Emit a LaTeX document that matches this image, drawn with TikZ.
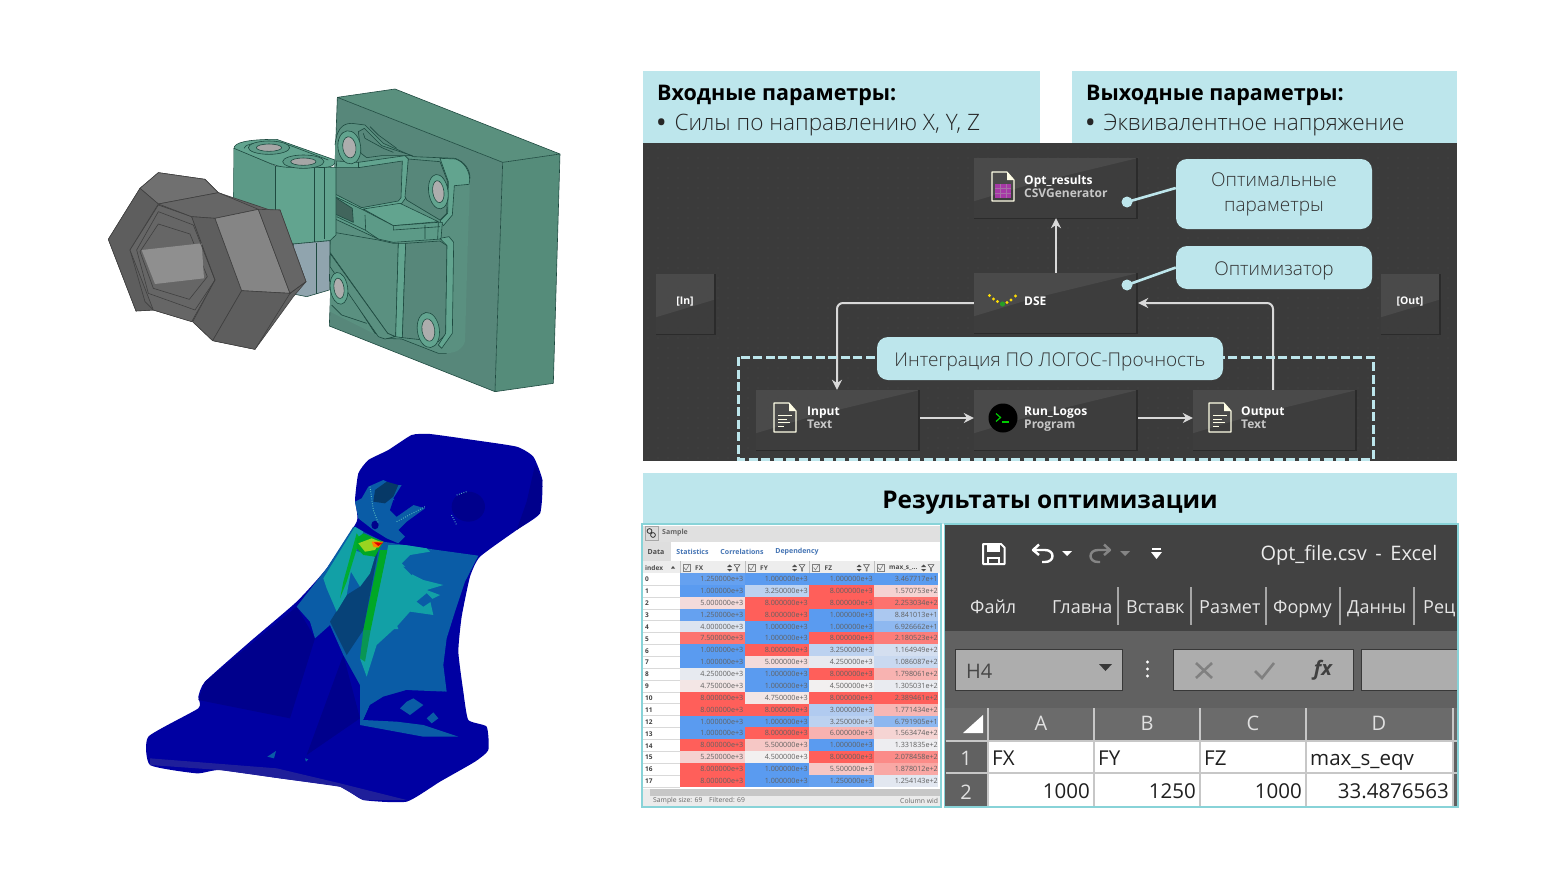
\documentclass[tikz,border=0pt]{standalone}
\usepackage{fontspec}
\setmainfont{Open Sans}
\newfontfamily\lightf{Open Sans Light}
\usetikzlibrary{arrows.meta,calc,shapes.geometric}
\definecolor{paleblue}{HTML}{BDE6EC}
\definecolor{panel}{HTML}{3B3B3B}
\definecolor{nodebase}{HTML}{3D3D3D}
\definecolor{nodelight}{HTML}{4A4A4A}
\definecolor{nodeshadow}{HTML}{2B2B2B}
\definecolor{cellblue}{HTML}{5A9BF0}
\definecolor{cellred}{HTML}{FF5F5A}
\definecolor{cellmid}{HTML}{F2F0F0}
\definecolor{gfront}{HTML}{57877A}
\definecolor{gtop}{HTML}{5A907E}
\definecolor{gside}{HTML}{558C7A}
\definecolor{gpanel}{HTML}{5A9080}
\definecolor{graised}{HTML}{5C9A87}
\definecolor{gbright}{HTML}{62A48F}
\definecolor{gline}{HTML}{1E4A40}
\definecolor{feaA}{HTML}{0000A2}
\definecolor{feaB}{HTML}{00008C}
\definecolor{feaC}{HTML}{0A5CA6}
\definecolor{feaD}{HTML}{12A0A6}
\tikzset{
  flowbox/.style={rectangle,inner sep=0pt,fill=nodebase,minimum height=60,
    path picture={
      \fill[nodelight] (path picture bounding box.north west) -- (path picture bounding box.north east)
        -- ($(path picture bounding box.north west)!.42!(path picture bounding box.south west)+(60,0)$)
        -- ($(path picture bounding box.north west)!.72!(path picture bounding box.south west)$) -- cycle;
      \fill[nodeshadow] ($(path picture bounding box.south west)+(0,3)$) rectangle (path picture bounding box.south east);
      \fill[nodeshadow] ($(path picture bounding box.north east)+(-2,0)$) rectangle (path picture bounding box.south east);
    }},
  wide/.style={flowbox,minimum width=164},
  tiny/.style={flowbox,minimum width=60},
  tname/.style={anchor=base west,inner sep=0pt,text=white,font=\bfseries\fontsize{12}{13}\selectfont},
  tkind/.style={anchor=base west,inner sep=0pt,text=black!22,font=\bfseries\fontsize{12}{13}\selectfont},
  flowline/.style={draw=black!15,line width=2pt,rounded corners=6pt,-{Stealth[length=10pt,width=10pt]}},
  tagbox/.style={rectangle,fill=paleblue,rounded corners=11pt,inner sep=0pt,align=center,
    text=black!80,font=\lightf\fontsize{19}{25}\selectfont,execute at begin node={\rule{0pt}{20pt}}},
  tagline/.style={draw=paleblue,line width=2.6pt},
  tagdot/.style={circle,fill=paleblue,inner sep=0pt,minimum size=11pt},
  headtext/.style={anchor=base west,inner sep=0pt,text=black,font=\bfseries\fontsize{21.5}{26}\selectfont},
  bullettext/.style={anchor=base west,inner sep=0pt,text=black!85,font=\lightf\fontsize{22.6}{27}\selectfont},
  tbl/.style={inner sep=0pt,text=black!62,font=\fontsize{7.2}{8}\selectfont},
  tabsmall/.style={inner sep=0pt,text=cellblue!75!black,font=\bfseries\fontsize{7}{8}\selectfont},
  xl/.style={inner sep=0pt,text=black!88,font=\fontsize{20.5}{24}\selectfont},
  xlhead/.style={inner sep=0pt,text=black!12,font=\fontsize{20}{24}\selectfont},
  xltab/.style={inner sep=0pt,anchor=base west,text=black!10,font=\fontsize{18}{22}\selectfont},
  cad/.style={draw=gline,line width=.6pt,line join=round},
  nut/.style={draw=black!75,line width=.6pt,line join=round},
}
\newcommand\docicon[2]{%
  \draw[draw=white!90!yellow,line width=1.1pt,line join=round] (#1,#2) -- ++(15,0) -- ++(7,8) -- ++(0,21) -- ++(-22,0) -- cycle;
  \fill[white!90!yellow] (#1+15,#2) -- ++(7,8) -- ++(-7,0) -- cycle;
}
\newcommand\doclines[2]{%
  \draw[white!90!yellow,line width=.9pt] (#1+4,#2+12) -- ++(14,0) (#1+4,#2+16) -- ++(9,0) (#1+4,#2+19.5) -- ++(12,0) (#1+4,#2+23) -- ++(6,0);
}
\newcommand\cellv[5]{%
  \pgfmathsetmacro\pp{(#3-#4)/(#5-#4)*200-100}%
  \ifdim\pp pt<0pt
    \pgfmathsetmacro\qq{100+\pp}\colorlet{cc}{cellmid!\qq!cellblue}%
  \else
    \colorlet{cc}{cellred!\pp!cellmid}%
  \fi
  \fill[cc] (#1,#2-5.95) rectangle ++(64.6,11.9);
}
\newcommand\xltabtext[3]{\begin{scope}\clip (#1-1,590) rectangle (#3,625);\node[xltab] (tab#1) at (#1,613.5) {#2};\end{scope}}
\begin{document}
\begin{tikzpicture}[x=1pt,y=-1pt]
\useasboundingbox (0,0) rectangle (1552,873);
\fill[white] (0,0) rectangle (1552,873);

%% ---------- CAD model
\begin{scope}[shift={(90,80)},x=.33333pt,y=-.33333pt]
  \fill[gfront] (742,52) -- (1238,247) -- (1215,935) -- (718,738) -- cycle;
  \fill[gtop] (742,52) -- (915,27) -- (1410,222) -- (1238,247) -- cycle;
  \fill[gside] (1238,247) -- (1410,222) -- (1390,910) -- (1215,935) -- cycle;
  \draw[cad] (742,52) -- (915,27) -- (1410,222) -- (1390,910) -- (1215,935) -- (718,738) -- cycle
     (742,52) -- (1238,247) -- (1410,222) (1238,247) -- (1215,935);
\end{scope}
\begin{scope}[shift={(325,115)},x=.33333pt,y=-.33333pt]
  \fill[gpanel] (30,90) .. controls (35,45) and (50,25) .. (80,25) -- (120,30) -- (175,85) -- (265,125) -- (390,130)
     .. controls (420,140) and (435,165) .. (435,190) -- (428,400) -- (420,680) .. controls (410,705) and (395,712) .. (365,715)
     -- (340,715) -- (230,672) -- (175,670) -- (15,590) -- (15,350) -- (30,130) -- cycle;
  \draw[cad] (30,90) .. controls (35,45) and (50,25) .. (80,25) -- (120,30) -- (175,85) -- (265,125) -- (390,130)
     .. controls (420,140) and (435,165) .. (435,190);
  \draw[cad] (175,670) -- (230,672) -- (340,715) -- (365,715);
  % ear
  \fill[gfront,cad] (100,50) -- (118,40) -- (170,92) -- (262,122) -- (170,122) -- (125,128) -- (108,115) -- cycle;
  \draw[cad] (115,55) -- (120,70) -- (175,100) -- (205,112) (135,35) -- (160,60) -- (215,100);
  % upper rim + recess
  \fill[gbright,cad] (35,138) -- (100,142) -- (240,122) -- (250,132) -- (245,245) -- (228,268) -- (110,285) -- (30,245) -- cycle;
  \fill[gfront,cad] (32,158) -- (100,158) -- (232,138) -- (228,248) -- (220,258) -- (110,278) -- (32,238) -- cycle;
  \draw[cad] (100,142) -- (100,158);
  % right recess
  \fill[gfront,cad] (250,132) -- (345,140) -- (368,200) -- (365,295) -- (345,315) -- (245,255) -- (240,245) -- cycle;
  % right rim
  \fill[gbright,cad] (345,130) -- (392,132) .. controls (420,142) and (434,170) .. (434,195) -- (432,208) -- (388,212) -- (382,300) -- (355,332) -- (345,318) -- (368,295) -- (370,200) -- cycle;
  % shelf
  \fill[gbright,cad] (115,282) -- (225,265) -- (340,320) -- (205,332) -- cycle;
  % band under shelf
  \fill[graised,cad] (30,245) -- (115,285) -- (205,332) -- (340,322) -- (352,322) -- (348,372) -- (205,382) -- (160,372) -- (30,312) -- cycle;
  \fill[gfront!75!black,cad] (32,248) -- (82,280) -- (85,322) -- (32,298) -- cycle;
  \draw[cad] (120,300) -- (122,345) (300,330) -- (300,372) (340,322) -- (338,372) (205,332) -- (205,345) -- (345,335) (160,372) -- (120,345) -- (35,305);
  % lower panels
  \fill[gpanel,cad] (15,350) -- (160,375) -- (205,385) -- (220,385) -- (212,665) -- (188,655) -- (15,412) -- cycle;
  \fill[gbright,cad] (220,385) -- (242,385) -- (232,668) -- (212,665) -- cycle;
  \fill[gfront,cad] (242,385) -- (345,378) -- (366,392) -- (362,658) -- (340,680) -- (232,668) -- cycle;
  \fill[gbright,cad] (345,370) -- (372,365) -- (386,382) -- (382,655) -- (350,700) -- (340,690) -- (362,655) -- (366,392) -- cycle;
  % diagonal rib
  \fill[gfront!72!black,cad] (38,480) -- (60,500) -- (170,662) -- (150,655) -- cycle;
  \fill[gpanel,cad] (15,415) -- (188,655) -- (210,665) -- (180,672) -- (160,665) -- (15,455) -- cycle;
  \draw[cad] (20,570) -- (50,600) -- (125,625);
  \foreach \bx/\by/\ra/\rb/\nm in {73/97/34/50/a, 340/230/29/52/b, 310/645/33/53/c, 42/520/26/48/d}{
    \fill[gbright,cad] (\bx,\by) ellipse [x radius=\ra,y radius=\rb,rotate=8];
    \fill[black!32!white,cad] (\bx,\by) ellipse [x radius=.58*\ra,y radius=.64*\rb,rotate=8];
  }
\end{scope}
\begin{scope}[shift={(90,80)},x=.33333pt,y=-.33333pt]
  % cylinder part
  \fill[gbright,cad] (432,205) -- (555,258) -- (738,262) -- (738,465) -- (720,482) -- (610,492) -- (430,400) -- cycle;
  \fill[graised] (432,205) -- (555,258) -- (555,400) -- (430,400) -- cycle;
  \draw[cad] (555,258) -- (555,490) (672,262) -- (672,485) (702,262) -- (702,478);
  \fill[black!35!cyan!35!gray!80!white,cad] (610,492) -- (720,482) -- (718,630) -- (650,650) -- (600,640) -- cycle;
  \draw[cad] (680,488) -- (680,642);
  \fill[gbright,cad] (432,205) .. controls (432,188) and (470,178) .. (560,178) -- (735,240) .. controls (740,258) and (715,265) .. (680,262) -- (600,262) .. controls (570,262) and (555,255) .. (540,250) -- cycle;
  \draw[cad] (462,205) .. controls (465,185) and (560,180) .. (610,200) -- (715,240);
  \foreach \bx/\by in {537/203, 640/245}{
    \fill[graised,cad] (\bx,\by) ellipse [x radius=62,y radius=20];
    \fill[black!35!white,cad] (\bx,\by) ellipse [x radius=38,y radius=11];
  }
  % hex nut
  \fill[black!62!white,nut] (205,278) -- (345,298) -- (385,338) -- (540,390) -- (570,390) -- (648,605) -- (610,650) -- (495,808) -- (368,782) -- (308,725) -- (190,690) -- (138,693) -- (55,478) -- (150,325) -- cycle;
  \fill[black!56!white,nut] (150,325) -- (205,278) -- (345,298) -- (385,338) -- (205,372) -- cycle;
  \fill[black!63!white,nut] (55,478) -- (150,325) -- (205,372) -- (120,510) -- (165,665) -- (190,690) -- (138,693) -- cycle;
  \fill[black!60!white,nut] (205,375) -- (305,410) -- (375,600) -- (305,725) -- (190,690) -- (120,510) -- cycle;
  \fill[black!60!white,nut] (205,372) -- (385,338) -- (505,388) -- (375,415) -- (305,410) -- cycle;
  \fill[black!63!white,nut] (305,410) -- (375,415) -- (455,632) -- (368,782) -- (308,725) -- (375,600) -- cycle;
  \fill[black!48!white,nut] (375,415) -- (505,388) -- (600,640) -- (455,632) -- cycle;
  \fill[black!60!white,nut] (505,388) -- (570,390) -- (648,605) -- (600,640) -- cycle;
  \fill[black!63!white,nut] (455,632) -- (600,640) -- (495,808) -- (368,782) -- cycle;
  \draw[nut] (600,640) -- (648,605);
  % hole
  \fill[black!60!white,nut] (205,432) -- (300,462) -- (352,590) -- (298,658) -- (190,625) -- (150,515) -- cycle;
  \fill[black!44!white] (155,510) -- (335,490) -- (342,595) -- (195,612) -- cycle;
  \draw[nut] (140,510) -- (205,395) -- (310,435) -- (375,600) -- (315,690) -- (175,640) -- cycle;
\end{scope}

%% ---------- FEA model
\begin{scope}[shift={(130,425)},x=.33333pt,y=-.33333pt]
  \fill[feaA] plot[smooth cycle,tension=.3] coordinates {(845,30) (900,27) (1030,45) (1160,65) (1210,95) (1237,165) (1230,265) (1160,315) (1050,395) (1020,455) (995,575) (985,680) (1000,800) (1015,885) (1070,905) (1075,975) (1035,1010) (930,1070) (830,1130) (700,1125) (630,1085) (450,1060) (270,1035) (200,1045) (60,1020) (55,935) (205,850) (205,815) (225,770) (360,650) (500,530) (590,430) (680,290) (675,225) (685,145) (715,105) (775,75)};
  % darker faces
  \fill[feaB] (225,770) -- (500,545) -- (555,640) -- (480,880) -- (205,825) -- cycle;
  \fill[feaB] (640,690) -- (690,880) -- (530,990) -- cycle;
  \fill[feaB] (1160,315) -- (1230,265) -- (1237,165) -- (1215,120) -- (1190,230) -- cycle;
  \fill[feaB!88!white] (60,1000) -- (440,1030) -- (630,1075) -- (830,1125) -- (700,1125) -- (630,1085) -- (270,1035) -- (60,1020) -- cycle;
  % mid-blue
  \fill[feaC] (500,545) -- (590,430) -- (670,305) -- (760,350) -- (900,372) -- (1045,392) -- (1005,470) -- (975,560) -- (950,640) -- (940,720) -- (945,760) -- (950,800) -- (830,795) -- (720,840) -- (700,885) -- (800,890) -- (880,900) -- (985,935) -- (880,935) -- (690,900) -- (690,780) -- (640,690) -- (600,600) -- (555,640) -- (540,590) -- cycle;
  \fill[feaA] (720,840) -- (760,815) -- (830,795) -- (870,805) -- (945,800) -- (960,830) -- (900,880) -- (840,870) -- (780,870) -- (700,885) -- cycle;
  \fill[feaC] (810,850) -- (830,830) -- (850,820) -- (880,840) -- (840,870) -- cycle;
  \fill[feaC] (890,880) -- (910,862) -- (925,880) -- (905,895) -- cycle;
  \fill[feaC!72!black] (730,385) -- (745,375) -- (700,615) -- (650,690) -- (600,590) -- (650,510) -- (690,485) -- (720,445) -- cycle;
  % cyan
  \fill[feaD] (775,360) -- (825,360) -- (890,370) -- (900,380) -- (840,390) -- (815,415) -- (850,450) -- (880,465) -- (940,480) -- (890,495) -- (930,510) -- (900,525) -- (910,570) -- (840,560) -- (800,605) -- (740,660) -- (710,755) -- (690,700) -- (720,615) -- cycle;
  \fill[feaC] (820,425) -- (870,430) -- (845,450) -- cycle;
  \fill[feaC] (860,530) -- (890,505) -- (910,525) -- (880,545) -- cycle;
  \fill[feaD] (765,612) -- (795,585) -- (805,612) -- cycle;
  \fill[feaD] (675,305) -- (700,320) -- (670,400) -- (650,510) -- (620,560) -- (590,490) -- (580,460) -- cycle;
  \fill[feaD] (670,375) -- (735,395) -- (720,445) -- (690,485) -- (660,435) -- cycle;
  % green strips
  \fill[green!60!black!85!cyan] (750,375) -- (772,375) -- (722,615) -- (700,615) -- cycle;
  \fill[green!55!black!50!feaD] (700,615) -- (722,615) -- (705,710) -- (690,700) -- cycle;
  \fill[green!60!black!80!cyan] (680,325) -- (690,340) -- (650,470) -- (630,520) -- (640,470) -- cycle;
  \fill[green!60!black!85!cyan] (680,340) -- (700,325) -- (760,350) -- (735,395) -- (700,390) -- (680,370) -- cycle;
  \fill[yellow!60!green] (685,355) -- (725,340) -- (750,350) -- (735,375) -- (705,380) -- cycle;
  \fill[orange] (725,350) -- (760,350) -- (745,368) -- (730,365) -- cycle;
  \fill[red!85!black] (732,352) -- (760,353) -- (745,363) -- cycle;
  % head patches
  \fill[feaC] (715,185) -- (760,165) -- (790,180) -- (815,180) -- (790,220) -- (810,250) -- (850,240) -- (885,250) -- (830,290) -- (805,315) -- (825,335) -- (805,355) -- (770,340) -- (730,315) -- (685,280) -- (675,230) -- (695,220) -- cycle;
  \fill[feaC!62!black] (735,195) -- (770,170) -- (805,180) -- (790,215) -- (765,235) -- (730,230) -- cycle;
  \fill[feaA] (790,225) -- (850,240) -- (800,275) -- (780,255) -- cycle;
  \fill[feaB] (1015,245) ellipse [x radius=50,y radius=45];
  \fill[feaB] (735,300) ellipse [x radius=11,y radius=13];
  \draw[feaD!70!white,line width=1pt,dash pattern=on .8pt off 1.6pt] (720,185) -- (730,255) -- (745,295) (800,290) -- (885,245) (980,210) -- (1010,200) (965,270) -- (980,300);
  % small patches near foot
  \fill[feaC] (412,995) -- (438,978) -- (432,1000) -- cycle;
  \fill[feaC] (525,1000) -- (535,1003) -- (528,1010) -- cycle;
\end{scope}

%% ---------- Header labels
\fill[paleblue] (643,71) rectangle (1040,143);
\fill[paleblue] (1072,71) rectangle (1457,143);
\node[headtext] (inhead) at (657,100) {Входные параметры:};
\node[bullettext] (inlist) at (657,130) {{\normalfont\bfseries•}\kern3pt{} Силы по направлению X, Y, Z};
\node[headtext] (outhead) at (1086,100) {Выходные параметры:};
\node[bullettext] (outlist) at (1086,130) {{\normalfont\bfseries•}\kern3pt{} Эквивалентное напряжение};

%% ---------- Workflow panel
\fill[panel] (643,143) rectangle (1457,461);
\foreach \xx in {648,658,...,1452}{\foreach \yy in {148,158,...,458}{\fill[black!58!white] (\xx,\yy) circle (.45pt);}}
\node[wide] (opt) at (1056,188) {};
\node[wide] (dse) at (1056,303) {};
\node[wide] (input) at (838,420) {};
\node[wide] (run) at (1056,420) {};
\node[wide] (output) at (1275,420) {};
\node[tiny] (inb) at (686,304) {};
\node[tiny] (outb) at (1411,304) {};
\node[inner sep=0pt,text=white,font=\bfseries\fontsize{10.5}{13}\selectfont] (inl) at (685,302) {[In]};
\node[inner sep=0pt,text=white,font=\bfseries\fontsize{10.5}{13}\selectfont] (outl) at (1410,302) {[Out]};
\node[tname] (optn) at (1024,184.5) {Opt\_results};
\node[tkind] (optk) at (1024,197.5) {CSVGenerator};
\node[tname] (dsen) at (1024,305.5) {DSE};
\node[tname] (inn) at (807,415) {Input};
\node[tkind] (ink) at (807,428.5) {Text};
\node[tname] (runn) at (1024,415) {Run\_Logos};
\node[tkind] (runk) at (1024,428.5) {Program};
\node[tname] (outn) at (1241,415) {Output};
\node[tkind] (outk) at (1241,428.5) {Text};
% icons
\docicon{774}{403}\doclines{774}{403}
\docicon{1209}{403}\doclines{1209}{403}
\docicon{992}{172}
\fill[violet!45!magenta!55!gray] (995,184) rectangle (1011,198);
\draw[black!35!white,line width=.5pt,opacity=.5] (995,188.5) -- (1011,188.5) (995,193) -- (1011,193) (1000.5,184) -- (1000.5,198) (1006,184) -- (1006,198);
\fill[black] (1003,418) circle (14.5pt);
\draw[green!80!black,line width=1.2pt] (996,413.5) -- (1000.5,417.5) -- (996,421.5);
\draw[green!80!black,line width=1.2pt] (1002,422) -- (1009,422);
\foreach \dx/\dy in {989.5/295.5, 993.5/299, 997.5/301.5, 1007/302.5, 1011/300, 1015.5/296}{\fill[yellow!80!orange] (\dx,\dy) circle (1.6pt);}
\fill[green!55!black!85!white] (1002.5,304) circle (2.6pt);
% connectors
\draw[flowline] (dse.north) -- (opt.south);
\draw[flowline] (dse.west) -| ([xshift=-1]input.north);
\draw[flowline] ([xshift=-2]output.north) |- (dse.east);
\draw[flowline] ([yshift=2]input.east) -- ([yshift=2]run.west);
\draw[flowline] ([yshift=2]run.east) -- ([yshift=2]output.west);
% dashed frame
\draw[paleblue,line width=3pt,dash pattern=on 9pt off 3.5pt] (738,357) rectangle (1373,459);
% callouts
\node[tagbox,minimum width=196,minimum height=70] (tag1) at (1274,194) {Оптимальные\\параметры};
\node[tagbox,minimum width=196,minimum height=43] (tag2) at (1274,267.5) {Оптимизатор};
\node[tagbox,minimum width=346,minimum height=43] (tag3) at (1050,358.5) {Интеграция ПО ЛОГОС-Прочность};
\node[tagdot] (dot1) at (1127,202) {};
\node[tagdot] (dot2) at (1127,285) {};
\draw[tagline] (dot1.center) -- ([yshift=6]tag1.west);
\draw[tagline] (dot2.center) -- (tag2.west);

%% ---------- Results
\fill[paleblue] (643,473) rectangle (1457,524);
\node[anchor=base,inner sep=0pt,text=black,font=\bfseries\fontsize{24.4}{30}\selectfont] (restitle) at (1050,508) {Результаты оптимизации};

%% ---------- Sample table
\fill[white] (642,524) rectangle (942,808);
\fill[black!12!white] (643,526) rectangle (940,542);
\fill[black!15!white,draw=black!35!white,line width=.4pt] (645,526.5) rectangle (658.5,540.5);
\draw[black!80,line width=.8pt] (649.5,531) circle (2.4pt) (653,535) circle (2.4pt);
\node[inner sep=0pt,anchor=west,text=black!60,font=\bfseries\fontsize{7}{8}\selectfont] (smp) at (662,532.5) {Sample};
\fill[black!13!white] (643,542) rectangle (671,561);
\node[inner sep=0pt,text=black!70,font=\bfseries\fontsize{7}{8}\selectfont] (t1) at (656,552) {Data};
\node[tabsmall] (t2) at (692.5,552) {Statistics};
\node[tabsmall] (t3) at (742,552) {Correlations};
\node[tabsmall] (t4) at (797,552) {Dependency};
\fill[black!7!white] (643,561) rectangle (940,573);
\node[inner sep=0pt,anchor=west,text=black!70,font=\bfseries\fontsize{6.5}{8}\selectfont] (ixh) at (645,568) {index};
\fill[black!70] (671,568.5) -- (675,568.5) -- (673,566) -- cycle;
\foreach \cx/\cn/\nm in {680/FX/hx, 745/FY/hy, 809.5/FZ/hz, 874/{max\_s\_...}/hm}{
  \draw[black!50!white,line width=.4pt] (\cx+3,564) rectangle ++(7,7);
  \draw[black!55!white,line width=.5pt] (\cx+4,567.5) -- (\cx+6,570) -- (\cx+9,565);
  \draw[black!25!white,line width=.5pt] (\cx,561) -- (\cx,573);
  \node[inner sep=0pt,anchor=west,text=black!70,font=\bfseries\fontsize{6.5}{8}\selectfont] (\nm) at (\cx+15,568) {\cn};
  \fill[black!70] (\cx+47,567) -- (\cx+52,567) -- (\cx+49.5,564.5) -- cycle (\cx+47,569) -- (\cx+52,569) -- (\cx+49.5,571.5) -- cycle;
  \draw[black!70,line width=.5pt] (\cx+54,564.5) -- (\cx+60,564.5) -- (\cx+57.5,568) -- (\cx+57.5,571) -- (\cx+56.5,571) -- (\cx+56.5,568) -- cycle;
}
\foreach \ri/\fa/\fb/\fc/\fd in {
 0/1.250000e+3/1.000000e+3/1.000000e+3/3.467717e+1,
 1/1.000000e+3/3.250000e+3/8.000000e+3/1.570753e+2,
 2/5.000000e+3/8.000000e+3/8.000000e+3/2.253034e+2,
 3/1.250000e+3/8.000000e+3/1.000000e+3/8.841013e+1,
 4/4.000000e+3/1.000000e+3/1.000000e+3/6.926662e+1,
 5/7.500000e+3/1.000000e+3/8.000000e+3/2.180523e+2,
 6/1.000000e+3/8.000000e+3/3.250000e+3/1.164949e+2,
 7/1.000000e+3/5.000000e+3/4.250000e+3/1.086087e+2,
 8/4.250000e+3/1.000000e+3/8.000000e+3/1.798061e+2,
 9/4.750000e+3/1.000000e+3/4.500000e+3/1.305031e+2,
 10/8.000000e+3/4.750000e+3/8.000000e+3/2.389461e+2,
 11/8.000000e+3/8.000000e+3/3.000000e+3/1.771434e+2,
 12/1.000000e+3/1.000000e+3/3.250000e+3/6.791905e+1,
 13/1.000000e+3/8.000000e+3/6.000000e+3/1.563474e+2,
 14/8.000000e+3/5.500000e+3/1.000000e+3/1.331835e+2,
 15/5.250000e+3/4.500000e+3/8.000000e+3/2.078458e+2,
 16/8.000000e+3/1.000000e+3/5.500000e+3/1.878012e+2,
 17/8.000000e+3/1.000000e+3/1.250000e+3/1.254143e+2}{
  \pgfmathsetmacro\ry{579+11.87*\ri}
  \cellv{680}{\ry}{\fa}{1000}{8000}
  \node[tbl,anchor=east] (fa\ri) at (743.5,\ry) {\fa};
  \cellv{744.6}{\ry}{\fb}{1000}{8000}
  \node[tbl,anchor=east] (fb\ri) at (808,\ry) {\fb};
  \cellv{809.2}{\ry}{\fc}{1000}{8000}
  \node[tbl,anchor=east] (fc\ri) at (873,\ry) {\fc};
  \cellv{873.8}{\ry}{\fd}{34}{239}
  \node[tbl,anchor=east] (fd\ri) at (938,\ry) {\fd};
  \node[inner sep=0pt,anchor=west,text=black!75,font=\bfseries\fontsize{6.5}{8}\selectfont] (ix\ri) at (645,\ry+.5) {\ri};
  \draw[black!15!white,line width=.3pt] (643,\ry+5.9) -- (680,\ry+5.9);
}
\fill[black!22!white] (643,789) rectangle (940,796);
\fill[black!8!white] (643,789) rectangle (650,796);
\fill[black!8!white] (643,796) rectangle (940,807);
\node[inner sep=0pt,anchor=west,text=black!60,font=\fontsize{6.8}{8}\selectfont] (st1) at (653,801) {Sample size: 69\quad Filtered: 69};
\begin{scope}
\clip (860,796) rectangle (940,807);
\node[inner sep=0pt,anchor=west,text=black!60,font=\fontsize{6.8}{8}\selectfont] (st2) at (900,801) {Column wid};
\end{scope}
\draw[paleblue!80!cyan!90!black,line width=1.6pt] (642,524) rectangle (941,807);

%% ---------- Excel
\fill[black!74!white] (945,524) rectangle (1457,631);
\fill[black!62!white] (945,631) rectangle (1457,708);
\fill[black!58!white] (945,708) rectangle (1457,741);
\fill[black!62!white] (945,741) rectangle (988,806);
\fill[white] (988,741) rectangle (1453,806);
\fill[black!62!white] (1453,741) rectangle (1457,806);
% QAT icons
\draw[white,line width=2pt,line join=round] (983,544) -- (1001,544) -- (1004.5,547.5) -- (1004.5,564) -- (983,564) -- cycle;
\fill[white] (987,544) rectangle (1000,552);
\draw[white,line width=1.4pt] (988,558) rectangle (999,564);
\draw[white,line width=2.4pt,line join=round] (1039,544.5) -- (1033,550) -- (1039,555) (1034,550) -- (1045,550) .. controls (1055,550) and (1055,562) .. (1045,562) -- (1042,562);
\fill[white] (1062,551) -- (1072,551) -- (1067,556) -- cycle;
\draw[black!48!white,line width=2.4pt,line join=round] (1104,544.5) -- (1110,550) -- (1104,555) (1109,550) -- (1098,550) .. controls (1088,550) and (1088,562) .. (1098,562) -- (1100,562);
\fill[black!48!white] (1120,551) -- (1130,551) -- (1125,556) -- cycle;
\draw[white,line width=1.2pt] (1152,549) -- (1161,549);
\fill[white] (1151,552) -- (1162,552) -- (1156.5,559) -- cycle;
\node[anchor=base,inner sep=0pt,text=black!8,font=\fontsize{20}{24}\selectfont] (xltitle) at (1349,560.5) {Opt\_file.csv\, -\, Excel};
\xltabtext{970}{Файл}{1022}
\xltabtext{1052}{Главна}{1112}
\xltabtext{1126}{Вставк}{1185}
\xltabtext{1199}{Размет}{1259}
\xltabtext{1273}{Форму}{1333}
\xltabtext{1347}{Данны}{1408}
\xltabtext{1423}{Рец}{1457}
\foreach \sx in {1118,1191,1266,1340,1414}{\draw[black!35!white,line width=1.2pt] (\sx,587) -- (\sx,625);}
% name box / formula bar
\fill[black!32!white,draw=black!78,line width=1pt] (955,649) rectangle (1122,690);
\node[inner sep=0pt,anchor=west,text=black!72,font=\fontsize{20}{24}\selectfont] (h4) at (966,671) {H4};
\fill[black!78] (1099,664) -- (1112,664) -- (1105.5,671) -- cycle;
\foreach \dy in {662,669,676}{\fill[white] (1147.5,\dy) circle (1.6pt);}
\fill[black!32!white,draw=black!78,line width=1pt] (1173,649) rectangle (1353,690);
\fill[black!32!white,draw=black!78,line width=1pt] (1361,649) rectangle (1457,690);
\draw[black!50!white,line width=2.6pt] (1196,663) -- (1212,678) (1212,663) -- (1196,678);
\draw[black!50!white,line width=2.6pt] (1255,671) -- (1262,678) -- (1274,663);
\node[inner sep=0pt,text=black!75,font=\itshape\bfseries\fontsize{20}{24}\selectfont] (fx) at (1323,670) {fx};
% headers
\foreach \sx in {988,1094,1200,1306,1453}{\draw[black!22!white,line width=1.2pt] (\sx,708) -- (\sx,806);}
\fill[white] (983,715) -- (983,733) -- (963,733) -- cycle;
\draw[black!22!white,line width=1.4pt] (946,741) -- (1457,741);
\draw[black!22!white,line width=1.2pt] (946,773) -- (1457,773);
\node[xlhead] (ca) at (1041,723) {A};
\node[xlhead] (cb) at (1147,723) {B};
\node[xlhead] (cc2) at (1253,723) {C};
\node[xlhead] (cd) at (1379,723) {D};
\node[xlhead] (r1) at (966,758) {1};
\node[xlhead] (r2) at (966,792) {2};
\node[xl,anchor=base west] (x1) at (992,765) {FX};
\node[xl,anchor=base west] (x2) at (1098,765) {FY};
\node[xl,anchor=base west] (x3) at (1204,765) {FZ};
\node[xl,anchor=base west] (x4) at (1310,765) {max\_s\_eqv};
\node[xl,anchor=base east] (y1) at (1090,798) {1000};
\node[xl,anchor=base east] (y2) at (1196,798) {1250};
\node[xl,anchor=base east] (y3) at (1302,798) {1000};
\node[xl,anchor=base east] (y4) at (1449,798) {33.4876563};
\draw[paleblue!80!cyan!90!black,line width=1.6pt] (944.5,524) rectangle (1458,807);
\end{tikzpicture}
\end{document}
